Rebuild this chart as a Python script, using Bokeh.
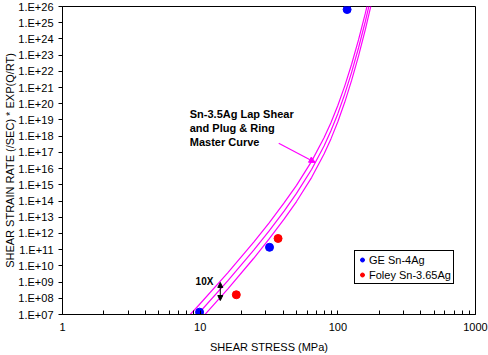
from bokeh.plotting import figure
from bokeh.models import (FixedTicker, CustomJSTickFormatter, Label, Arrow,
                          NormalHead, Range1d, Title)
from bokeh.embed import file_html
from bokeh.resources import INLINE

FONT = "Liberation Sans"

# ---- data ----
curve_stress = [7.94, 9.73, 15.85, 24.5, 31.6, 40.7, 50.1, 64.6, 79.4, 89.1,
                100.0, 112.2, 125.9, 141.3, 158.5, 177.8]
curve_upper = [5.6e6, 3.6e7, 3.7e9, 2.95e11, 4.4e12, 7.6e13, 9.3e14, 2.9e16, 7.9e17,
               6.8e18, 7.8e19, 1.23e21, 2.75e22, 8.7e23, 3.9e25, 2.45e27]
curve_master = [1.78e6, 1.15e7, 1.17e9, 9.3e10, 1.38e12, 2.4e13, 2.95e14, 9.1e15, 2.5e17,
                2.14e18, 2.45e19, 3.9e20, 8.7e21, 2.75e23, 1.23e25, 7.8e26]
curve_lower = [5.6e5, 3.6e6, 3.7e8, 2.95e10, 4.4e11, 7.6e12, 9.3e13, 2.9e15, 7.9e16,
               6.8e17, 7.8e18, 1.23e20, 2.75e21, 8.7e22, 3.9e24, 2.45e26]

ge_stress = [9.9, 31.9, 116.8]
ge_rate = [1.4e7, 1.4e11, 6.5e25]
foley_stress = [18.3, 36.8]
foley_rate = [1.65e8, 4.9e11]

x_ticks = [1, 10, 100, 1000]
x_minor = [2, 3, 4, 5, 6, 7, 8, 9, 20, 30, 40, 50, 60, 70, 80, 90,
           200, 300, 400, 500, 600, 700, 800, 900]
y_ticks = [1e7, 1e8, 1e9, 1e10, 1e11, 1e12, 1e13, 1e14, 1e15, 1e16, 1e17,
           1e18, 1e19, 1e20, 1e21, 1e22, 1e23, 1e24, 1e25, 1e26]

p = figure(width=488, height=355, x_axis_type="log", y_axis_type="log",
           x_range=Range1d(1, 1000), y_range=Range1d(1e7, 1e26),
           output_backend="svg", toolbar_location=None,
           min_border_left=62, min_border_right=13, min_border_top=6,
           min_border_bottom=41)
p.xgrid.visible = False
p.ygrid.visible = False
p.outline_line_color = "black"
p.outline_line_width = 1
p.outline_line_alpha = 1
p.background_fill_color = "white"
p.border_fill_color = "white"

# x axis
xa = p.xaxis[0]
xa.ticker = FixedTicker(ticks=x_ticks, minor_ticks=x_minor)
xa.formatter = CustomJSTickFormatter(code="return String(Math.round(tick));")
xa.major_tick_in = 4
xa.major_tick_out = 0
xa.minor_tick_in = 4
xa.minor_tick_out = 0
xa.major_label_standoff = 8
xa.axis_label = "SHEAR STRESS (MPa)"
xa.axis_label_standoff = 7
xa.axis_label_text_font = FONT
xa.axis_label_text_font_size = "11px"
xa.axis_label_text_font_style = "normal"
xa.axis_label_text_color = "black"
xa.major_label_text_font = FONT
xa.major_label_text_font_size = "11px"
xa.major_label_text_color = "black"
xa.axis_line_color = "black"

# y axis
ya = p.yaxis[0]
ya.ticker = FixedTicker(ticks=y_ticks, minor_ticks=[])
ya.formatter = CustomJSTickFormatter(
    code="const e = Math.round(Math.log10(tick)); return '1.E+' + (e < 10 ? '0' : '') + e;")
ya.major_tick_in = 0
ya.major_tick_out = 4
ya.minor_tick_in = 0
ya.minor_tick_out = 0
ya.major_label_standoff = 5
ya.major_label_text_font = FONT
ya.major_label_text_font_size = "11px"
ya.major_label_text_color = "black"
ya.axis_line_color = "black"

# y axis title (shifted upward like the reference)
p.add_layout(Title(text="SHEAR STRAIN RATE (/SEC) * EXP(Q/RT)", align="center",
                   offset=22, standoff=0, text_font=FONT, text_font_size="11px",
                   text_font_style="normal", text_color="black"), "left")

# curves
for ys in (curve_upper, curve_master, curve_lower):
    p.line(curve_stress, ys, line_color="#FF00FF", line_width=1.2)

# points
p.scatter(ge_stress, ge_rate, size=8, marker="circle", fill_color="#0000FF",
          line_color="#0000FF", legend_label="GE Sn-4Ag")
p.scatter(foley_stress, foley_rate, size=8, marker="circle", fill_color="#FF0000",
          line_color="#FF0000", legend_label="Foley Sn-3.65Ag")

lg = p.legend[0]
lg.location = (292, 30)
lg.margin = 0
lg.padding = 2
lg.spacing = 2
lg.border_line_color = "black"
lg.border_line_width = 1
lg.border_line_alpha = 1
lg.background_fill_color = "white"
lg.background_fill_alpha = 1
lg.label_text_font = FONT
lg.label_text_font_size = "11px"
lg.label_text_color = "black"
lg.glyph_width = 10
lg.glyph_height = 13
lg.label_height = 13
lg.label_standoff = 2

# annotations
note_lines = ["Sn-3.5Ag Lap Shear", "and Plug & Ring", "Master Curve"]
note_y = [2.45e19, 3.2e18, 4.6e17]
for txt, yy in zip(note_lines, note_y):
    p.add_layout(Label(x=8.4, y=yy, text=txt, text_font=FONT, text_font_size="11px",
                       text_font_style="bold", text_color="black",
                       text_baseline="alphabetic"))

p.add_layout(Arrow(end=NormalHead(size=6, fill_color="#FF00FF", line_color="#FF00FF"),
                   x_start=37.2, y_start=3.7e17, x_end=68.5, y_end=2.4e16,
                   line_color="#FF00FF", line_width=1.2))

p.add_layout(Label(x=10.75, y=1.1e9, text="10X", text_font=FONT, text_font_size="10px",
                   text_font_style="bold", text_color="black", text_align="center",
                   text_baseline="alphabetic"))
p.add_layout(Arrow(start=NormalHead(size=5, fill_color="black", line_color="black"),
                   end=NormalHead(size=5, fill_color="black", line_color="black"),
                   x_start=14.0, y_start=9.5e8, x_end=14.0, y_end=7.3e7,
                   line_color="black", line_width=1))

open("out.html", "w").write(file_html(p, INLINE))
